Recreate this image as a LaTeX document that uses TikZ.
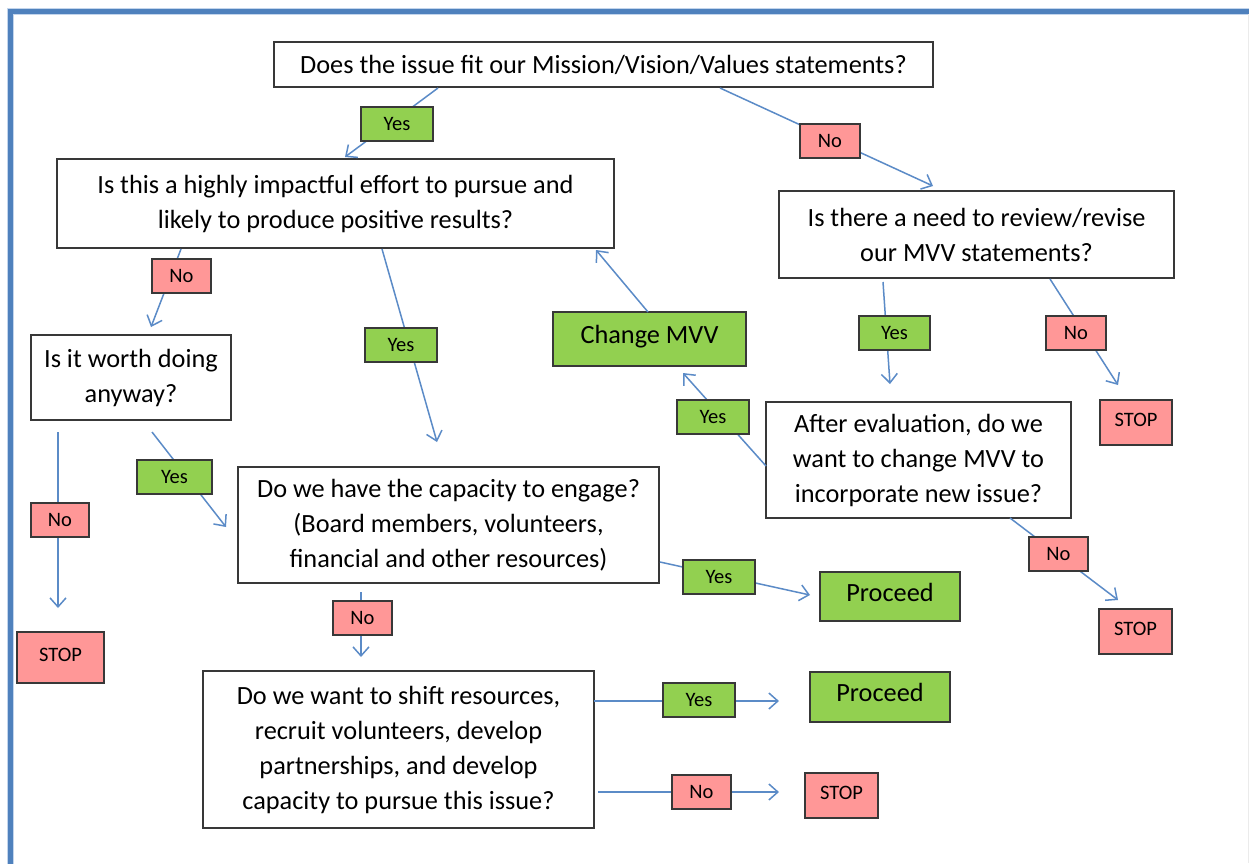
\documentclass[tikz,border=0pt]{standalone}
\usepackage{fontspec}
\setmainfont{Carlito}
\usetikzlibrary{arrows.meta}
\definecolor{framebl}{HTML}{4F81BD}
\definecolor{framehalo}{HTML}{C3D5EC}
\definecolor{conn}{HTML}{5B8BC7}
\definecolor{okgreen}{HTML}{92D050}
\definecolor{stopred}{HTML}{FF9797}
\definecolor{edgegray}{HTML}{383838}
\begin{document}
\begin{tikzpicture}[x=1pt,y=-1pt,
  wh/.style 2 args={minimum width=#1pt, minimum height=#2pt},
  question/.style={draw=edgegray, line width=2pt, fill=white, inner sep=0pt,
    align=center, font=\fontsize{26.3}{35}\selectfont},
  goal/.style={question, fill=okgreen, text height=18pt, text depth=9pt},
  halt/.style={draw=edgegray, line width=2pt, fill=stopred, inner sep=0pt,
    font=\fontsize{20.5}{24}\selectfont, text height=13pt, text depth=6pt},
  yeslbl/.style={draw=edgegray, line width=2pt, fill=okgreen, inner sep=0pt,
    font=\fontsize{20.5}{24}\selectfont, minimum height=34pt},
  nolbl/.style={yeslbl, fill=stopred},
  flow/.style={draw=conn, line width=1.5pt,
    -{Straight Barb[length=9pt,width=16pt,line width=1.5pt]}}
]
\useasboundingbox (0,0) rectangle (1249,863);
\fill[white] (0,0) rectangle (1249,863);

% page frame
\draw[framehalo, line width=7.5pt] (10.5,880) -- (10.5,11.5) -- (1270,11.5);
\draw[framebl, line width=4.5pt] (10.5,880) -- (10.5,11.5) -- (1270,11.5);
\draw[black!8, line width=1pt] (1248,14) -- (1248,863);

% decision boxes
\node[question, wh={659}{45}]  (q1) at (603.5,64.5) {Does the issue fit our Mission/Vision/Values statements?};
\node[question, wh={557}{89}]  (q2) at (335.5,203.5) {Is this a highly impactful effort to pursue and\\likely to produce positive results?};
\node[question, wh={395}{87}]  (q3) at (976.5,234.5) {Is there a need to review/revise\\our MVV statements?};
\node[question, wh={200}{85}]  (q4) at (131,377.5) {Is it worth doing\\anyway?};
\node[question, wh={305}{116}] (q5) at (918.5,460) {After evaluation, do we\\want to change MVV to\\incorporate new issue?};
\node[question, wh={421}{116}] (q6) at (448.5,525) {Do we have the capacity to engage?\\(Board members, volunteers,\\financial and other resources)};
\node[question, wh={391}{157}] (q7) at (398.5,749.5) {Do we want to shift resources,\\recruit volunteers, develop\\partnerships, and develop\\capacity to pursue this issue?};

% outcomes
\node[goal, wh={193}{54}] (chg) at (649.5,339) {Change MVV};
\node[goal, wh={140}{49}] (pr1) at (890,596.5) {Proceed};
\node[goal, wh={140}{50}] (pr2) at (880,697) {Proceed};
\node[halt, wh={72}{45}] (stA) at (1136,422.5) {STOP};
\node[halt, wh={73}{45}] (stB) at (1135.5,631.5) {STOP};
\node[halt, wh={87}{51}] (stC) at (60.5,657.5) {STOP};
\node[halt, wh={73}{45}] (stD) at (841.5,795.5) {STOP};

% connector end points
\coordinate (a1) at (438,88);   \coordinate (b1) at (345,157);
\coordinate (a2) at (720,88);   \coordinate (b2) at (933,186);
\coordinate (a3) at (181,249);  \coordinate (b3) at (151,327);
\coordinate (a4) at (382,249);  \coordinate (b4) at (437,442);
\coordinate (a5) at (648,312);  \coordinate (b5) at (596,250);
\coordinate (a6) at (883,282);  \coordinate (b6) at (890,384);
\coordinate (a7) at (1050,279); \coordinate (b7) at (1118,385);
\coordinate (a8) at (766,466);  \coordinate (b8) at (683,373);
\coordinate (a9) at (58,432);   \coordinate (b9) at (58,608);
\coordinate (a10) at (152,432); \coordinate (b10) at (226,527);
\coordinate (a11) at (660,562); \coordinate (b11) at (810,595);
\coordinate (a12) at (361,592); \coordinate (b12) at (361,657);
\coordinate (a13) at (1010,518);\coordinate (b13) at (1118,600);
\coordinate (a14) at (594,701); \coordinate (b14) at (779,701);
\coordinate (a15) at (598,792); \coordinate (b15) at (779,792);

% connectors
\foreach \k in {1,...,15} { \draw[flow] (a\k) -- (b\k); }

% branch labels
\node[yeslbl, minimum width=72pt] (y1) at (397,124) {Yes};
\node[nolbl,  minimum width=60pt] (n1) at (830,141) {No};
\node[nolbl,  minimum width=59pt] (n2) at (181.5,276) {No};
\node[yeslbl, minimum width=72pt] (y2) at (401,345) {Yes};
\node[yeslbl, minimum width=71pt] (y3) at (894.5,333) {Yes};
\node[nolbl,  minimum width=60pt] (n3) at (1076,333) {No};
\node[yeslbl, minimum width=72pt] (y4) at (713,417) {Yes};
\node[yeslbl, minimum width=75pt] (y5) at (174.5,477) {Yes};
\node[nolbl,  minimum width=58pt] (n4) at (60,520) {No};
\node[yeslbl, minimum width=72pt] (y6) at (719,577) {Yes};
\node[nolbl,  minimum width=59pt] (n5) at (362.5,618) {No};
\node[nolbl,  minimum width=59pt] (n6) at (1058.5,554) {No};
\node[yeslbl, minimum width=72pt] (y7) at (699,700) {Yes};
\node[nolbl,  minimum width=59pt] (n7) at (701.5,792) {No};
\end{tikzpicture}
\end{document}
